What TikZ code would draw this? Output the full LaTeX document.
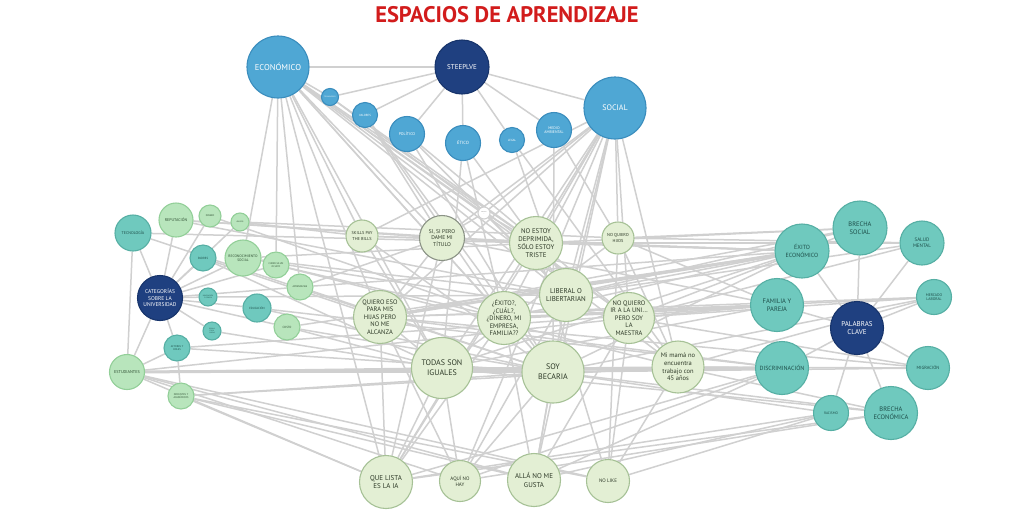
\documentclass[tikz,border=0pt]{standalone}
\usepackage{fontspec}
\usepackage{graphicx}
\setmainfont{PT Sans}
\usetikzlibrary{backgrounds}
\definecolor{edgec}{HTML}{D0D0D0}
\definecolor{bluf}{HTML}{4FA7D4}
\definecolor{blud}{HTML}{3A8DBD}
\definecolor{navf}{HTML}{1F4080}
\definecolor{navd}{HTML}{17346B}
\definecolor{tealf}{HTML}{6FC9BE}
\definecolor{teald}{HTML}{56AFA4}
\definecolor{tealt}{HTML}{1E4F4A}
\definecolor{lgrf}{HTML}{B8E5BC}
\definecolor{lgrd}{HTML}{92CF98}
\definecolor{lgrt}{HTML}{2F4F33}
\definecolor{pgrf}{HTML}{E3EFD4}
\definecolor{pgrd}{HTML}{A6C196}
\definecolor{pgrt}{HTML}{2E3A28}
\definecolor{titc}{HTML}{D21C1C}
\tikzset{
  nd/.style={circle, inner sep=0pt, align=center, line width=1.1pt},
  blu/.style={nd, fill=bluf, draw=blud, text=white},
  nav/.style={nd, fill=navf, draw=navd, text=white},
  tea/.style={nd, fill=tealf, draw=teald, text=tealt},
  lgr/.style={nd, fill=lgrf, draw=lgrd, text=lgrt},
  pgr/.style={nd, fill=pgrf, draw=pgrd, text=pgrt},
  wnd/.style={nd, fill=white, draw=edgec, text=gray},
  sz/.style={minimum size=#1pt},
  fs/.style 2 args={font=\fontsize{#1}{#2}\selectfont},
  ed/.style={draw=edgec, line width=1.5pt},
  edt/.style={draw=edgec, line width=3pt},
}
\begin{document}
\begin{tikzpicture}[x=1pt,y=-1pt]
\useasboundingbox (0,0) rectangle (1035,523);
% title
\node[text=titc, font=\bfseries\fontsize{22.5}{26}\selectfont] (title) at (507,15) {ESPACIOS DE APRENDIZAJE};
% top cluster
\node[blu, sz=62, fs={8.5}{10}] (eco) at (278,67) {ECONÓMICO};
\node[nav, sz=54, fs={7}{8}] (stp) at (462,67) {STEEPLVE};
\node[blu, sz=62, fs={8}{9}] (soc) at (615,108) {SOCIAL};
\node[blu, sz=17, fs={1.8}{2}] (tec) at (330,97) {TECNOLÓGICO};
\node[blu, sz=25, fs={3}{3.5}] (val) at (365,115) {VALORES};
\node[blu, sz=35, fs={4}{5}] (pol) at (407,134) {POLÍTICO};
\node[blu, sz=35, fs={4.5}{5}] (eti) at (463,143) {ÉTICO};
\node[blu, sz=25, fs={3}{3.5}] (leg) at (512,140) {LEGAL};
\node[blu, sz=35, fs={3.8}{4.5}] (med) at (554,130) {MEDIO\\AMBIENTAL};
% left cluster
\node[tea, sz=36, fs={4}{5}] (tecn) at (133,233) {TECNOLOGÍA};
\node[lgr, sz=34, fs={4}{5}] (rep) at (176,220) {REPUTACIÓN};
\node[lgr, sz=22, fs={2.5}{3}] (lg1) at (210,216) {DINERO};
\node[lgr, sz=18, fs={2}{2.5}] (lg2) at (240,222) {AMIGOS};
\node[tea, sz=26, fs={3}{3.5}] (pad) at (203,258) {PADRES};
\node[lgr, sz=36, fs={3.6}{4.4}] (cono) at (243,258) {RECONOCIMIENTO\\SOCIAL};
\node[lgr, sz=26, fs={2.5}{3}] (curr) at (276,265) {CURRICULUM\\OCULTO};
\node[lgr, sz=26, fs={2.5}{3}] (apr) at (300,287) {APRENDIZAJE};
\node[nav, sz=45, fs={5.5}{6.6}] (cat) at (160,298) {CATEGORÍAS\\SOBRE LA\\UNIVERSIDAD};
\node[tea, sz=18, fs={1.8}{2.2}] (lt1) at (208,297) {INNOVACIÓN\\Y CIENCIA};
\node[tea, sz=28, fs={3}{3.5}] (edu) at (257,308) {EDUCACIÓN};
\node[tea, sz=18, fs={1.6}{2}] (lt2) at (212,331) {ESPACIO\\FÍSICO\\Y ÁREAS};
\node[lgr, sz=26, fs={3}{3.5}] (cos) at (287,327) {COSTO};
\node[tea, sz=26, fs={2.6}{3.2}] (act) at (177,348) {ACTORES Y\\ROLES};
\node[lgr, sz=35, fs={4.2}{5}] (est) at (127,372) {ESTUDIANTES};
\node[lgr, sz=26, fs={2.6}{3.2}] (doc) at (181,396) {DOCENTES Y\\ACADÉMICOS};
% center cluster
\node[pgr, sz=32, fs={4.3}{5.3}] (skl) at (362,236) {SKILLS PAY\\THE BILLS};
\node[pgr, sz=45, fs={5.5}{6.6}, draw=gray!70!pgrd] (sisi) at (442,238) {SI, SI PERO\\DAME MI\\TÍTULO};
\node[wnd, sz=12, fs={1.4}{1.7}] (wht) at (484,213) {EMPLEO\\---};
\node[pgr, sz=53, fs={6.8}{7.8}] (dep) at (536,243) {NO ESTOY\\DEPRIMIDA,\\SÓLO ESTOY\\TRISTE};
\node[pgr, sz=32, fs={4.3}{5.3}] (hij) at (618,238) {NO QUIERO\\HIJOS};
\node[pgr, sz=53, fs={7}{8.5}] (lib) at (566,295) {LIBERAL O\\LIBERTARIAN};
\node[pgr, sz=53, fs={6.5}{7.4}] (qui) at (380,317) {QUIERO ESO\\PARA MIS\\HIJAS PERO\\NO ME\\ALCANZA};
\node[pgr, sz=53, fs={6.5}{7.4}] (exi) at (504,318) {¿ÉXITO?,\\¿CUÁL?,\\¿DINERO, MI\\EMPRESA,\\FAMILIA??};
\node[pgr, sz=51, fs={6.5}{7.4}] (uni) at (629,318) {NO QUIERO\\IR A LA UNI...\\PERO SOY\\LA\\MAESTRA};
\node[pgr, sz=52, fs={6.5}{7.6}] (mam) at (678,367) {Mi mamá no\\encuentra\\trabajo con\\45 años};
\node[pgr, sz=61, fs={8}{10}] (tod) at (442,368) {TODAS SON\\IGUALES};
\node[pgr, sz=62, fs={8}{10}] (bec) at (553,372) {SOY\\BECARIA};
\node[pgr, sz=53, fs={7}{8.4}] (ia) at (386,482) {QUE LISTA\\ES LA IA};
\node[pgr, sz=41, fs={5}{6}] (aqui) at (460,481) {AQUÍ NO\\HAY};
\node[pgr, sz=53, fs={7}{8.4}] (alla) at (534,480) {ALLÁ NO ME\\GUSTA};
\node[pgr, sz=43, fs={5}{6}] (nol) at (608,481) {NO LIKE};
% right cluster
\node[tea, sz=54, fs={6.5}{8}] (bs) at (860,228) {BRECHA\\SOCIAL};
\node[tea, sz=44, fs={5}{6}] (sm) at (922,243) {SALUD\\MENTAL};
\node[tea, sz=54, fs={6}{7.4}] (ee) at (802,251) {ÉXITO\\ECONÓMICO};
\node[tea, sz=35, fs={3.8}{4.6}] (ml) at (934,297) {MERCADO\\LABORAL};
\node[tea, sz=53, fs={6.5}{8}] (fp) at (777,305) {FAMILIA Y\\PAREJA};
\node[nav, sz=53, fs={7}{8.4}] (pc) at (857,328) {PALABRAS\\CLAVE};
\node[tea, sz=53, fs={6}{7}] (dis) at (782,368) {DISCRIMINACIÓN};
\node[tea, sz=43, fs={4.5}{5.4}] (mig) at (928,368) {MIGRACIÓN};
\node[tea, sz=35, fs={3.5}{4.2}] (rac) at (831,413) {RACISMO};
\node[tea, sz=53, fs={6.5}{8}] (be) at (891,413) {BRECHA\\ECONÓMICA};
\begin{pgfonlayer}{background}
\fill[white] (0,0) rectangle (1035,523);
\foreach \a/\b in {
 stp/eco, stp/soc, stp/tec, stp/val, stp/pol, stp/eti, stp/leg, stp/med,
 eco/skl, eco/qui, eco/tod, eco/sisi, eco/bec, eco/lib, eco/exi, eco/uni, eco/mam, eco/dep, eco/ia, eco/tec,
 eco/cono, eco/apr, eco/curr,
 tec/dep, tec/uni, val/sisi, val/exi, val/bec, pol/lib, pol/bec, pol/uni,
 eti/dep, eti/tod, eti/exi, leg/mam, leg/lib, med/hij, med/bec,
 soc/hij, soc/dep, soc/sisi, soc/qui, soc/lib, soc/bec, soc/uni, soc/mam, soc/exi, soc/tod, soc/skl, soc/alla, soc/ia, soc/aqui,
 cat/tecn, cat/rep, cat/lg1, cat/lg2, cat/pad, cat/cono, cat/curr, cat/apr, cat/lt1, cat/edu, cat/lt2, cat/cos, cat/act, cat/est,
 act/est, act/doc, tecn/est,
 tecn/dep, tecn/bec, rep/sisi, rep/lib, rep/dep, lg1/exi, lg2/skl, lg2/hij, pad/tod, pad/qui, cono/dep, cono/lib, cono/uni,
 curr/exi, curr/mam, apr/bec, apr/sisi, apr/ee, edu/bec, edu/dis, cos/bec, cos/tod, cos/ee, lt1/lib, lt2/tod,
 act/bec, act/fp, est/bec, est/tod, est/ia, est/alla, est/nol, est/aqui, est/mam, est/uni,
 doc/ia, doc/alla, doc/bec, doc/mam, doc/nol,
 pc/bs, pc/sm, pc/ee, pc/ml, pc/fp, pc/dis, pc/mig, pc/rac, pc/be,
 ee/dep, ee/lib, ee/sisi, ee/uni, ee/exi, ee/tod, ee/bec, ee/skl, ee/bs, bs/hij, bs/dep, bs/qui, bs/lib,
 sm/dep, sm/uni, sm/lib, sm/hij, ml/uni, ml/mam, ml/bec, ml/exi, ml/qui,
 fp/exi, fp/hij, fp/qui, fp/uni, fp/tod, fp/sisi,
 dis/bec, dis/tod, dis/mam, dis/qui, dis/ia, dis/alla, dis/aqui,
 mig/bec, mig/mam, mig/uni, mig/qui, rac/alla, rac/nol, rac/bec, rac/ia, be/bec, be/tod, be/mam, be/ia, be/aqui,
 ia/qui, ia/tod, ia/sisi, ia/exi, aqui/tod, aqui/bec, aqui/qui, aqui/lib, alla/bec, alla/lib, alla/exi, alla/uni,
 nol/hij, nol/uni, nol/mam, nol/dep, ia/dep,
 sisi/qui, skl/tod, dep/lib, qui/tod, lib/bec, exi/bec, uni/mam, wht/sisi, wht/dep, wht/eco, wht/soc, wht/lib,
 skl/ee, skl/bec, hij/mam, hij/tod}
 \draw[ed] (\a) -- (\b);
\draw[edt] (est) -- (dis);
\draw[edt] (tod) -- (bec);
\draw[edt] (exi) -- (fp);
\draw[edt] (qui) -- (ee);
\end{pgfonlayer}
\end{tikzpicture}
\end{document}
